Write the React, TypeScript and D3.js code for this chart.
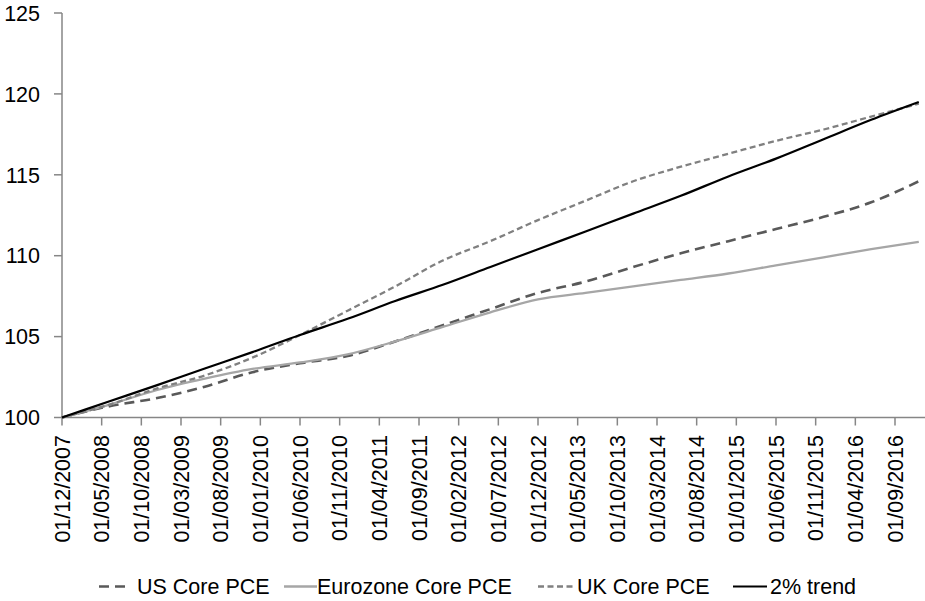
import React from "react";
import * as d3 from "d3";

// ---- data ----
const dates = [
  "2007-12", "2008-06", "2008-12", "2009-06", "2009-12", "2010-06", "2010-12",
  "2011-06", "2011-12", "2012-06", "2012-12", "2013-06", "2013-12", "2014-06",
  "2014-12", "2015-06", "2015-12", "2016-06", "2016-12",
];
const usCorePCE = [
  100, 100.7, 101.2, 101.9, 102.8, 103.35, 103.8, 104.7, 105.7, 106.7, 107.7,
  108.4, 109.3, 110.15, 110.9, 111.65, 112.4, 113.3, 114.6,
];
const eurozoneCorePCE = [
  100, 100.8, 101.7, 102.4, 103.0, 103.4, 103.9, 104.7, 105.6, 106.5, 107.3,
  107.7, 108.1, 108.5, 108.9, 109.4, 109.9, 110.4, 110.85,
];
const ukCorePCE = [
  100, 100.8, 101.8, 102.6, 103.7, 105.1, 106.6, 108.1, 109.7, 110.9, 112.2,
  113.4, 114.6, 115.5, 116.3, 117.1, 117.8, 118.6, 119.4,
];
const trend2pct = [
  100, 101.0, 102.0, 103.03, 104.04, 105.1, 106.1, 107.2, 108.2, 109.3, 110.4,
  111.5, 112.6, 113.7, 114.9, 116.0, 117.2, 118.4, 119.5,
];
const xTickLabels = [
  "01/12/2007", "01/05/2008", "01/10/2008", "01/03/2009", "01/08/2009",
  "01/01/2010", "01/06/2010", "01/11/2010", "01/04/2011", "01/09/2011",
  "01/02/2012", "01/07/2012", "01/12/2012", "01/05/2013", "01/10/2013",
  "01/03/2014", "01/08/2014", "01/01/2015", "01/06/2015", "01/11/2015",
  "01/04/2016", "01/09/2016",
];
const yTicks = [100, 105, 110, 115, 120, 125];

const seriesNames = ["US Core PCE", "Eurozone Core PCE", "UK Core PCE", "2% trend"];

// ---- layout / style ----
const W = 925;
const H = 601;
const FONT = "Arial, 'Liberation Sans', Helvetica, sans-serif";
const FS = 21.5;
const AXIS_COLOR = "#868686";

const styles = [
  { color: "#595959", width: 2.6, dash: "10,6" },
  { color: "#a6a6a6", width: 2.3, dash: null },
  { color: "#808080", width: 2.3, dash: "6,3.5" },
  { color: "#000000", width: 2.2, dash: null },
];
const legendLayout = [
  { x1: 99, x2: 127, tx: 137 },
  { x1: 284, x2: 317, tx: 317 },
  { x1: 538, x2: 575, tx: 577 },
  { x1: 733, x2: 767, tx: 770 },
];

const monthIndexFromIso = (s: string) => {
  const [y, m] = s.split("-").map(Number);
  return (y - 2007) * 12 + (m - 12);
};
const monthIndexFromLabel = (s: string) => {
  const [, m, y] = s.split("/").map(Number);
  return (y - 2007) * 12 + (m - 12);
};

export default function App() {
  const x = d3.scaleLinear().domain([0, 105]).range([62, 895]);
  const y = d3.scaleLinear().domain([100, 125]).range([417.5, 13]);
  const xEnd = x(109);

  const allSeries = [usCorePCE, eurozoneCorePCE, ukCorePCE, trend2pct];
  const line = d3
    .line<[number, number]>()
    .x((d) => x(d[0]))
    .y((d) => y(d[1]))
    .curve(d3.curveMonotoneX);

  const months = dates.map(monthIndexFromIso);

  return (
    <svg
      width={W}
      height={H}
      style={{ position: "absolute", left: 0, top: 0, background: "#fff" }}
      fontFamily={FONT}
    >
      {/* y axis */}
      <line x1={x(0)} x2={x(0)} y1={y(125)} y2={y(100)} stroke={AXIS_COLOR} strokeWidth={1.5} />
      {yTicks.map((t) => (
        <g key={t}>
          <line x1={x(0) - 8} x2={x(0)} y1={y(t)} y2={y(t)} stroke={AXIS_COLOR} strokeWidth={1.5} />
          <text x={40} y={y(t)} dy="0.36em" textAnchor="end" fontSize={FS} fill="#000">
            {t}
          </text>
        </g>
      ))}
      {/* x axis */}
      <line x1={x(0)} x2={Math.min(xEnd, W)} y1={y(100)} y2={y(100)} stroke={AXIS_COLOR} strokeWidth={1.5} />
      {xTickLabels.map((lab) => {
        const xp = x(monthIndexFromLabel(lab));
        return (
          <g key={lab}>
            <line x1={xp} x2={xp} y1={y(100)} y2={y(100) + 8} stroke={AXIS_COLOR} strokeWidth={1.5} />
            <text
              transform={`translate(${xp},435) rotate(-90)`}
              textAnchor="end"
              dy="0.36em"
              fontSize={FS}
              fill="#000"
            >
              {lab}
            </text>
          </g>
        );
      })}
      {/* series */}
      {allSeries.map((vals, i) => (
        <path
          key={seriesNames[i]}
          d={line(vals.map((v, j) => [months[j], v] as [number, number])) || ""}
          fill="none"
          stroke={styles[i].color}
          strokeWidth={styles[i].width}
          strokeDasharray={styles[i].dash || undefined}
          strokeLinejoin="round"
        />
      ))}
      {/* legend */}
      {seriesNames.map((name, i) => (
        <g key={name}>
          <line
            x1={legendLayout[i].x1}
            x2={legendLayout[i].x2}
            y1={586.5}
            y2={586.5}
            stroke={styles[i].color}
            strokeWidth={styles[i].width}
            strokeDasharray={styles[i].dash || undefined}
          />
          <text x={legendLayout[i].tx} y={594} fontSize={FS} fill="#000">
            {name}
          </text>
        </g>
      ))}
    </svg>
  );
}
